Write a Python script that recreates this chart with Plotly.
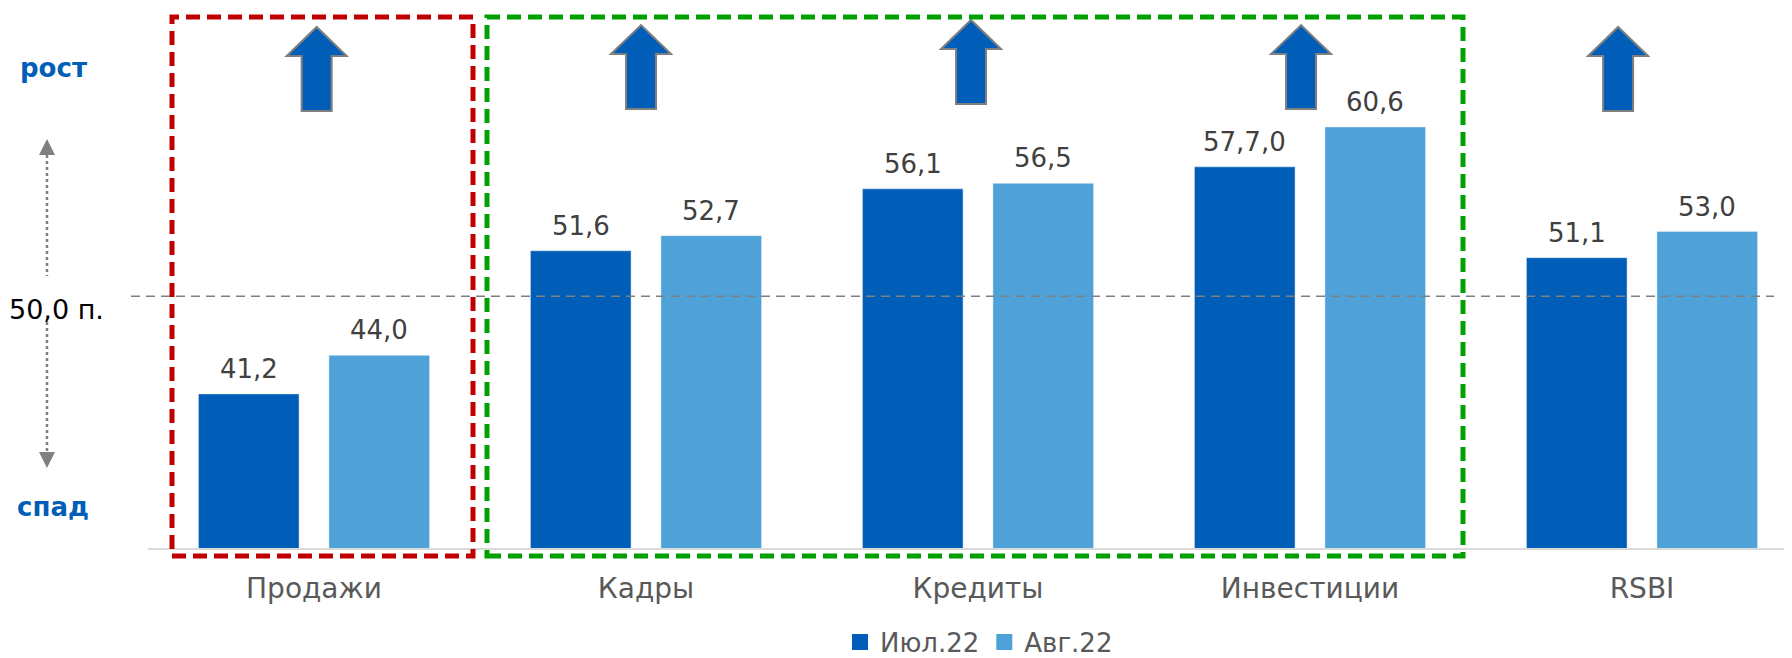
import plotly.graph_objects as go

categories = ['Продажи', 'Кадры', 'Кредиты', 'Инвестиции', 'RSBI']
jul_values = [41.2, 51.6, 56.1, 57.7, 51.1]
aug_values = [44.0, 52.7, 56.5, 60.6, 53.0]
jul_labels = ['41,2', '51,6', '56,1', '57,7,0', '51,1']
aug_labels = ['44,0', '52,7', '56,5', '60,6', '53,0']
series_names = ['Июл.22', 'Авг.22']
threshold_label = '50,0 п.'

# Layout geometry. The page body has an 8px margin, so figure margins are
# shifted by 8; helper functions below take page pixel positions.
OFF = 8
W, H = 1792 - OFF, 670
ML, MR, MT = 148 - OFF, 0, 10 - OFF
MB = H - (548 - OFF)
PW, PH = W - ML - MR, H - MT - MB
Y0, PX_PER_UNIT = 30, 13.76
X_PX_PER_CAT = 332

FONT = 'DejaVu Sans'
DARK = '#005EB8'
LIGHT = '#4EA2D7'
BAR_W, BAR_OFF = 0.303, 0.045


def px_x(p):
    return (p - 148) / PW


def px_y(p):
    return (548 - p) / PH


x = list(range(len(categories)))

fig = go.Figure()
fig.add_trace(go.Bar(x=x, y=jul_values, name=series_names[0], marker_color=DARK,
                     width=BAR_W, offset=-BAR_OFF - BAR_W, showlegend=False))
fig.add_trace(go.Bar(x=x, y=aug_values, name=series_names[1], marker_color=LIGHT,
                     width=BAR_W, offset=BAR_OFF, showlegend=False))
# legend entries with bigger square swatches
for name, col in zip(series_names, [DARK, LIGHT]):
    fig.add_trace(go.Scatter(x=[None], y=[None], mode='markers', name=name,
                             marker=dict(symbol='square', size=16, color=col)))

annotations = []
# value labels above bars
for i in x:
    for val, lab, sign in [(jul_values[i], jul_labels[i], -1), (aug_values[i], aug_labels[i], 1)]:
        annotations.append(dict(x=i + sign * (BAR_OFF + BAR_W / 2), y=val, text=lab,
                                showarrow=False, yanchor='bottom', yshift=8,
                                font=dict(family=FONT, size=26, color='#404040')))

# left side labels
annotations += [
    dict(xref='paper', yref='paper', x=px_x(53), y=px_y(68), text='<b>рост</b>',
         xanchor='center', yanchor='middle', showarrow=False,
         font=dict(family=FONT, size=26, color='#005EB8')),
    dict(xref='paper', yref='paper', x=px_x(53), y=px_y(507), text='<b>спад</b>',
         xanchor='center', yanchor='middle', showarrow=False,
         font=dict(family=FONT, size=26, color='#005EB8')),
    dict(xref='paper', yref='paper', x=px_x(56), y=px_y(309), text=threshold_label,
         xanchor='center', yanchor='middle', showarrow=False,
         font=dict(family=FONT, size=27, color='#000000')),
]

shapes = []
# threshold dashed line
shapes.append(dict(type='line', xref='paper', yref='y', x0=px_x(131), x1=px_x(1774),
                   y0=48.3, y1=48.3, line=dict(color='#808080', width=1.5, dash='9px,6px')))

# dotted up/down arrows on the left
ax = px_x(47)
shapes.append(dict(type='line', xref='paper', yref='paper', x0=ax, x1=ax,
                   y0=px_y(155), y1=px_y(276), line=dict(color='#808080', width=2.5, dash='dot')))
shapes.append(dict(type='line', xref='paper', yref='paper', x0=ax, x1=ax,
                   y0=px_y(322), y1=px_y(452), line=dict(color='#808080', width=2.5, dash='dot')))
shapes.append(dict(type='path', xref='paper', yref='paper', xsizemode='pixel', ysizemode='pixel',
                   xanchor=ax, yanchor=px_y(155), path='M-8,0 L8,0 L0,16 Z',
                   fillcolor='#808080', line=dict(width=0)))
shapes.append(dict(type='path', xref='paper', yref='paper', xsizemode='pixel', ysizemode='pixel',
                   xanchor=ax, yanchor=px_y(452), path='M-8,0 L8,0 L0,-16 Z',
                   fillcolor='#808080', line=dict(width=0)))

# block arrows above each group
arrow_dx = [0.008, -0.015, -0.021, -0.027, -0.072]
arrow_y = [61.76, 61.9, 62.27, 61.9, 61.76]
for i in x:
    shapes.append(dict(type='path', xref='x', yref='y', xsizemode='pixel', ysizemode='pixel',
                       xanchor=i + arrow_dx[i], yanchor=arrow_y[i],
                       path='M-15,0 L15,0 L15,55 L30,55 L0,84 L-30,55 L-15,55 Z',
                       fillcolor=DARK, line=dict(color='#7F7F7F', width=2)))

# highlight boxes
shapes.append(dict(type='rect', xref='paper', yref='paper', x0=px_x(172), x1=px_x(473),
                   y0=px_y(556), y1=px_y(17), line=dict(color='#C00000', width=5, dash='14px,7px')))
shapes.append(dict(type='rect', xref='paper', yref='paper', x0=px_x(487), x1=px_x(1463),
                   y0=px_y(556), y1=px_y(17), line=dict(color='#00A000', width=5, dash='14px,7px')))

fig.update_layout(
    width=W, height=H,
    margin=dict(l=ML, r=MR, t=MT, b=MB),
    plot_bgcolor='white', paper_bgcolor='white',
    font=dict(family=FONT, size=24, color='#595959'),
    showlegend=True,
    legend=dict(orientation='h', x=px_x(979), xanchor='center', y=px_y(642), yanchor='middle',
                itemsizing='trace',
                font=dict(family=FONT, size=26, color='#595959')),
    xaxis=dict(tickvals=x, ticktext=categories, range=[-0.5, -0.5 + PW / X_PX_PER_CAT],
               showgrid=False, zeroline=False, showline=True, linecolor='#D9D9D9', linewidth=2,
               ticks='', ticklabelstandoff=14, tickfont=dict(family=FONT, size=28, color='#595959')),
    yaxis=dict(range=[Y0, Y0 + PH / PX_PER_UNIT], visible=False, showgrid=False),
    annotations=annotations,
    shapes=shapes,
)

fig.write_html('out.html')
